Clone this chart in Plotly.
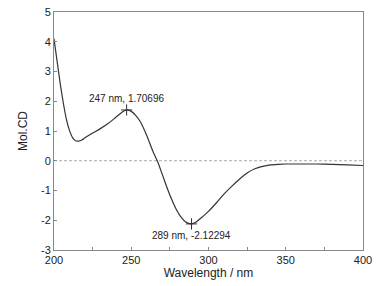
import plotly.graph_objects as go

wavelength = [200, 202, 204, 206, 208, 210, 212, 214, 216, 218, 220, 225, 230, 235, 240, 244, 247,
              250, 253, 256, 260, 264, 267, 270, 273, 276, 279, 282, 285, 289, 292, 295, 300,
              305, 310, 315, 320, 325, 330, 335, 340, 345, 350, 360, 370, 380, 390, 400]
mol_cd = [4.10, 3.35, 2.60, 1.95, 1.40, 1.02, 0.78, 0.67, 0.66, 0.70, 0.77, 0.93, 1.08, 1.25, 1.46, 1.63, 1.707,
          1.66, 1.52, 1.30, 0.85, 0.32, -0.02, -0.45, -0.88, -1.28, -1.62, -1.88, -2.05, -2.123, -2.06, -1.93, -1.70,
          -1.42, -1.12, -0.86, -0.62, -0.41, -0.27, -0.19, -0.14, -0.12, -0.11, -0.11, -0.11, -0.12, -0.14, -0.16]

peak_x = [247, 289]
peak_y = [1.70696, -2.12294]
peak_labels = ["247 nm, 1.70696", "289 nm, -2.12294"]
peak_shift = [11, -12]

x_ticks = [200, 250, 300, 350, 400]
y_ticks = [-3, -2, -1, 0, 1, 2, 3, 4, 5]
y_tick_labels = ["-3", "-2", "-1", "0", "1", "2", "3", "4", "5"]

font = "Liberation Sans, Arial, sans-serif"

fig = go.Figure()
fig.add_shape(type="line", xref="x", yref="y", x0=200, x1=400, y0=0, y1=0,
              line=dict(color="#aaaaaa", width=1, dash="3px,2px"), layer="below")
fig.add_trace(go.Scatter(x=wavelength, y=mol_cd, mode="lines",
                         line=dict(color="#333333", width=1.2, shape="spline", smoothing=0.6),
                         hoverinfo="skip"))
fig.add_trace(go.Scatter(x=peak_x, y=peak_y, mode="markers",
                         marker=dict(symbol="cross-thin", size=8, line=dict(color="#333333", width=1)),
                         hoverinfo="skip"))
for px, py, txt, sh in zip(peak_x, peak_y, peak_labels, peak_shift):
    fig.add_annotation(x=px, y=py, text=txt, showarrow=False, yshift=sh,
                       font=dict(family=font, size=10, color="#222222"))

fig.update_layout(
    width=390, height=286,
    margin=dict(l=54, r=27, t=12, b=36),
    paper_bgcolor="white", plot_bgcolor="white",
    showlegend=False,
    font=dict(family=font, size=11, color="#222222"),
)
fig.update_xaxes(range=[200, 400], tickvals=x_ticks,
                 ticks="inside", ticklen=3, tickcolor="#888888",
                 minor=dict(tickvals=[225, 275, 325, 375], ticks="inside", ticklen=3, tickcolor="#888888"),
                 showline=True, linecolor="#888888", linewidth=1, mirror=True,
                 showgrid=False, zeroline=False, automargin=False,
                 title=dict(text="Wavelength / nm", font=dict(size=12), standoff=2),
                 tickfont=dict(size=11))
fig.update_yaxes(range=[-3, 5], tickvals=y_ticks, ticktext=y_tick_labels,
                 ticks="inside", ticklen=3, tickcolor="#888888",
                 showline=True, linecolor="#888888", linewidth=1, mirror=True,
                 showgrid=False, zeroline=False, automargin=False,
                 title=dict(text="Mol.CD", font=dict(size=12), standoff=10),
                 tickfont=dict(size=11))

fig.write_html("out.html", config={"displayModeBar": False},
               post_script="document.body.style.margin='0';")
